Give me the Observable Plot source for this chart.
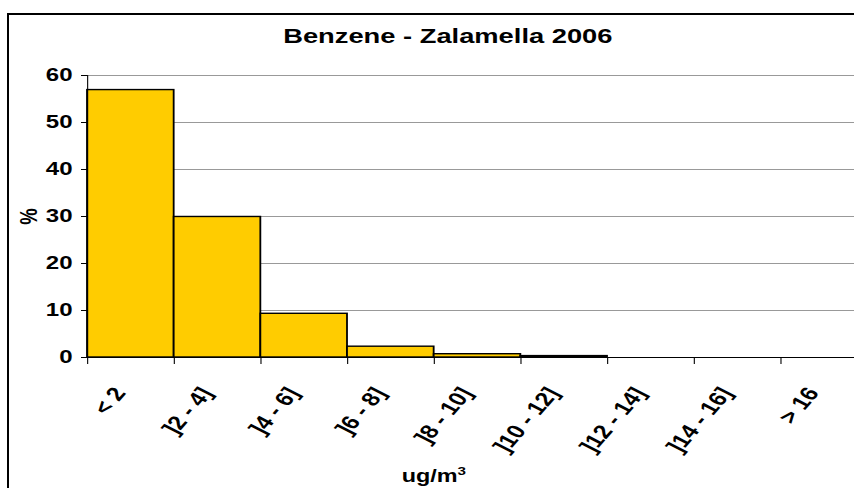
<!DOCTYPE html>
<html>
<head>
<meta charset="utf-8">
<script src="https://cdn.jsdelivr.net/npm/d3@7"></script>
<script src="https://cdn.jsdelivr.net/npm/@observablehq/plot@0.6"></script>
<style>
  html, body { margin: 0; padding: 0; background: #fff; overflow: hidden; width: 854px; height: 488px; }
  body { position: relative; font-family: "Liberation Sans", Arial, sans-serif; }
  #frame { position: absolute; left: 7px; top: 13px; width: 900px; height: 520px; border: 2px solid #000; box-sizing: border-box; pointer-events: none; }
  #stage { position: absolute; left: 0; top: 0; width: 685px; height: 488px; transform: scaleX(1.3); transform-origin: 0 0; }
  #title { position: absolute; left: 0; top: 25px; width: 689px; text-align: center; font-size: 21px; line-height: 21px; font-weight: bold; color: #000; white-space: nowrap; }
  #xlabel { position: absolute; left: 309px; top: 467px; font-size: 18px; line-height: 18px; font-weight: bold; color: #000; white-space: nowrap; }
  #xlabel sup { font-size: 0.65em; position: relative; top: -0.6em; vertical-align: baseline; }
  #chart { position: absolute; left: 0; top: 0; width: 685px; }
</style>
</head>
<body>
<div id="stage">
  <div id="chart"></div>
  <div id="title">Benzene - Zalamella 2006</div>
  <div id="xlabel">ug/m<sup>3</sup></div>
</div>
<div id="frame"></div>
<script>
const categories = ["< 2", "]2 - 4]", "]4 - 6]", "]6 - 8]", "]8 - 10]", "]10 - 12]", "]12 - 14]", "]14 - 16]", "> 16"];
const percent = [56.9, 29.9, 9.3, 2.3, 0.7, 0.3, 0, 0, 0];
const yTicks = [0, 10, 20, 30, 40, 50, 60];

const data = categories.map((c, i) => ({c, i, v: percent[i]}));
const stretch = 1.3;
const labelAngle = -56;

const chart = Plot.plot({
  width: 685,
  height: 488,
  marginLeft: 87 / stretch,
  marginRight: 685 - 867 / stretch,
  marginTop: 75,
  marginBottom: 131,
  style: {fontFamily: "'Liberation Sans', Arial, sans-serif", fontWeight: "bold", color: "#000", background: "transparent", maxWidth: "none"},
  x: {domain: [0, categories.length], axis: null},
  y: {domain: [yTicks[0], yTicks[yTicks.length - 1]], axis: null},
  marks: [
    Plot.gridY(yTicks.filter(t => t > 0), {stroke: "#999", strokeOpacity: 1}),
    Plot.rectY(data, {x1: "i", x2: d => d.i + 1, y: "v", fill: "#ffcc00", stroke: "#000", strokeWidth: 1.4, insetLeft: 0, insetRight: 0}),
    Plot.ruleY([0], {stroke: "#000"}),
    Plot.ruleX([0], {y1: yTicks[0], y2: yTicks[yTicks.length - 1], stroke: "#000", strokeWidth: 0.85}),
    Plot.axisY({ticks: yTicks, tickSize: 4.6, tickPadding: 7, fontSize: 18.5, label: "%", labelAnchor: "center", labelArrow: "none", labelOffset: 52, stroke: "#000"}),
    Plot.axisX({ticks: d3.range(categories.length + 1), tickSize: 7, tickFormat: () => "", label: null, stroke: "#000", strokeWidth: 0.85}),
    Plot.text(data, {x: d => d.i + 0.5, y: 0, text: "c", rotate: labelAngle, textAnchor: "end", dx: -8.5, dy: 32, fontSize: 19.5, fill: "#000"})
  ]
});
document.getElementById("chart").appendChild(chart);
</script>
</body>
</html>
